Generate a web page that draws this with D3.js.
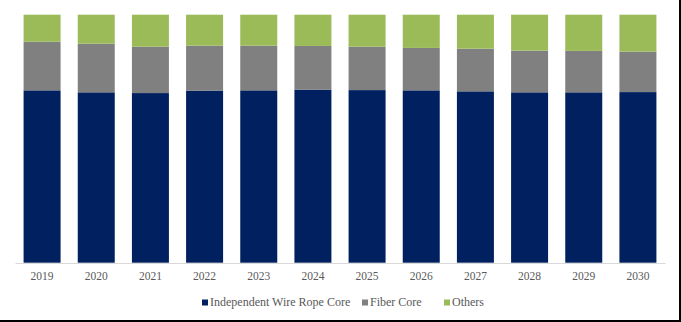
<!DOCTYPE html>
<html><head><meta charset="utf-8">
<script src="https://cdn.jsdelivr.net/npm/d3@7"></script>
<style>body{margin:0;background:#fff}svg{display:block}</style>
</head><body>
<svg id="c" width="681" height="322"></svg>
<script>
const years = ["2019","2020","2021","2022","2023","2024","2025","2026","2027","2028","2029","2030"];
const seriesNames = ["Independent Wire Rope Core","Fiber Core","Others"];
const iwrc   = [69.5,68.7,68.4,69.4,69.5,69.8,69.6,69.5,69.1,68.7,68.7,68.8];
const fiber  = [19.6,19.6,18.7,18.1,18.0,17.6,17.5,17.1,17.2,16.8,16.7,16.3];
const others = [10.9,11.7,12.9,12.5,12.5,12.6,12.9,13.4,13.7,14.5,14.6,14.9];
const colors = ["#002060","#808080","#9BBB59"];
const FONT = '"Liberation Serif"';

const rows = years.map((y,i)=>({year:y, "Independent Wire Rope Core":iwrc[i], "Fiber Core":fiber[i], "Others":others[i]}));
const stack = d3.stack().keys(seriesNames).offset(d3.stackOffsetExpand)(rows);

const svg = d3.select("#c");
const x = d3.scaleBand().domain(years).range([15,665]).paddingInner(0.317).paddingOuter(0.1585);
const y = d3.scaleLinear().domain([0,1]).range([262.7,14.7]);

svg.append("g").selectAll("g").data(stack).join("g")
  .attr("fill",(d,i)=>colors[i])
  .selectAll("rect").data(d=>d).join("rect")
  .attr("x",d=>x(d.data.year)).attr("width",x.bandwidth())
  .attr("y",d=>y(d[1])).attr("height",d=>y(d[0])-y(d[1]));

const ax = svg.append("g").attr("transform","translate(0,263)")
  .call(d3.axisBottom(x).tickSize(0).tickPadding(9));
ax.select(".domain").attr("stroke","#d9d9d9").attr("stroke-width",1);
ax.selectAll("text").style("font-family",FONT).style("font-size","11.5px").attr("fill","#595959");

const legX = [202,362,444];
const lg = svg.append("g");
seriesNames.forEach((n,i)=>{
  lg.append("rect").attr("x",legX[i]).attr("y",299.5).attr("width",6).attr("height",6).attr("fill",colors[i]);
  lg.append("text").attr("x",legX[i]+8).attr("y",306).text(n)
    .style("font-family",FONT).style("font-size","12px").attr("fill","#595959");
});

svg.append("line").attr("x1",0).attr("x2",681).attr("y1",321).attr("y2",321).attr("stroke","#000").attr("stroke-width",2);
svg.append("line").attr("x1",680).attr("x2",680).attr("y1",0).attr("y2",322).attr("stroke","#000").attr("stroke-width",2);
</script>
</body></html>
